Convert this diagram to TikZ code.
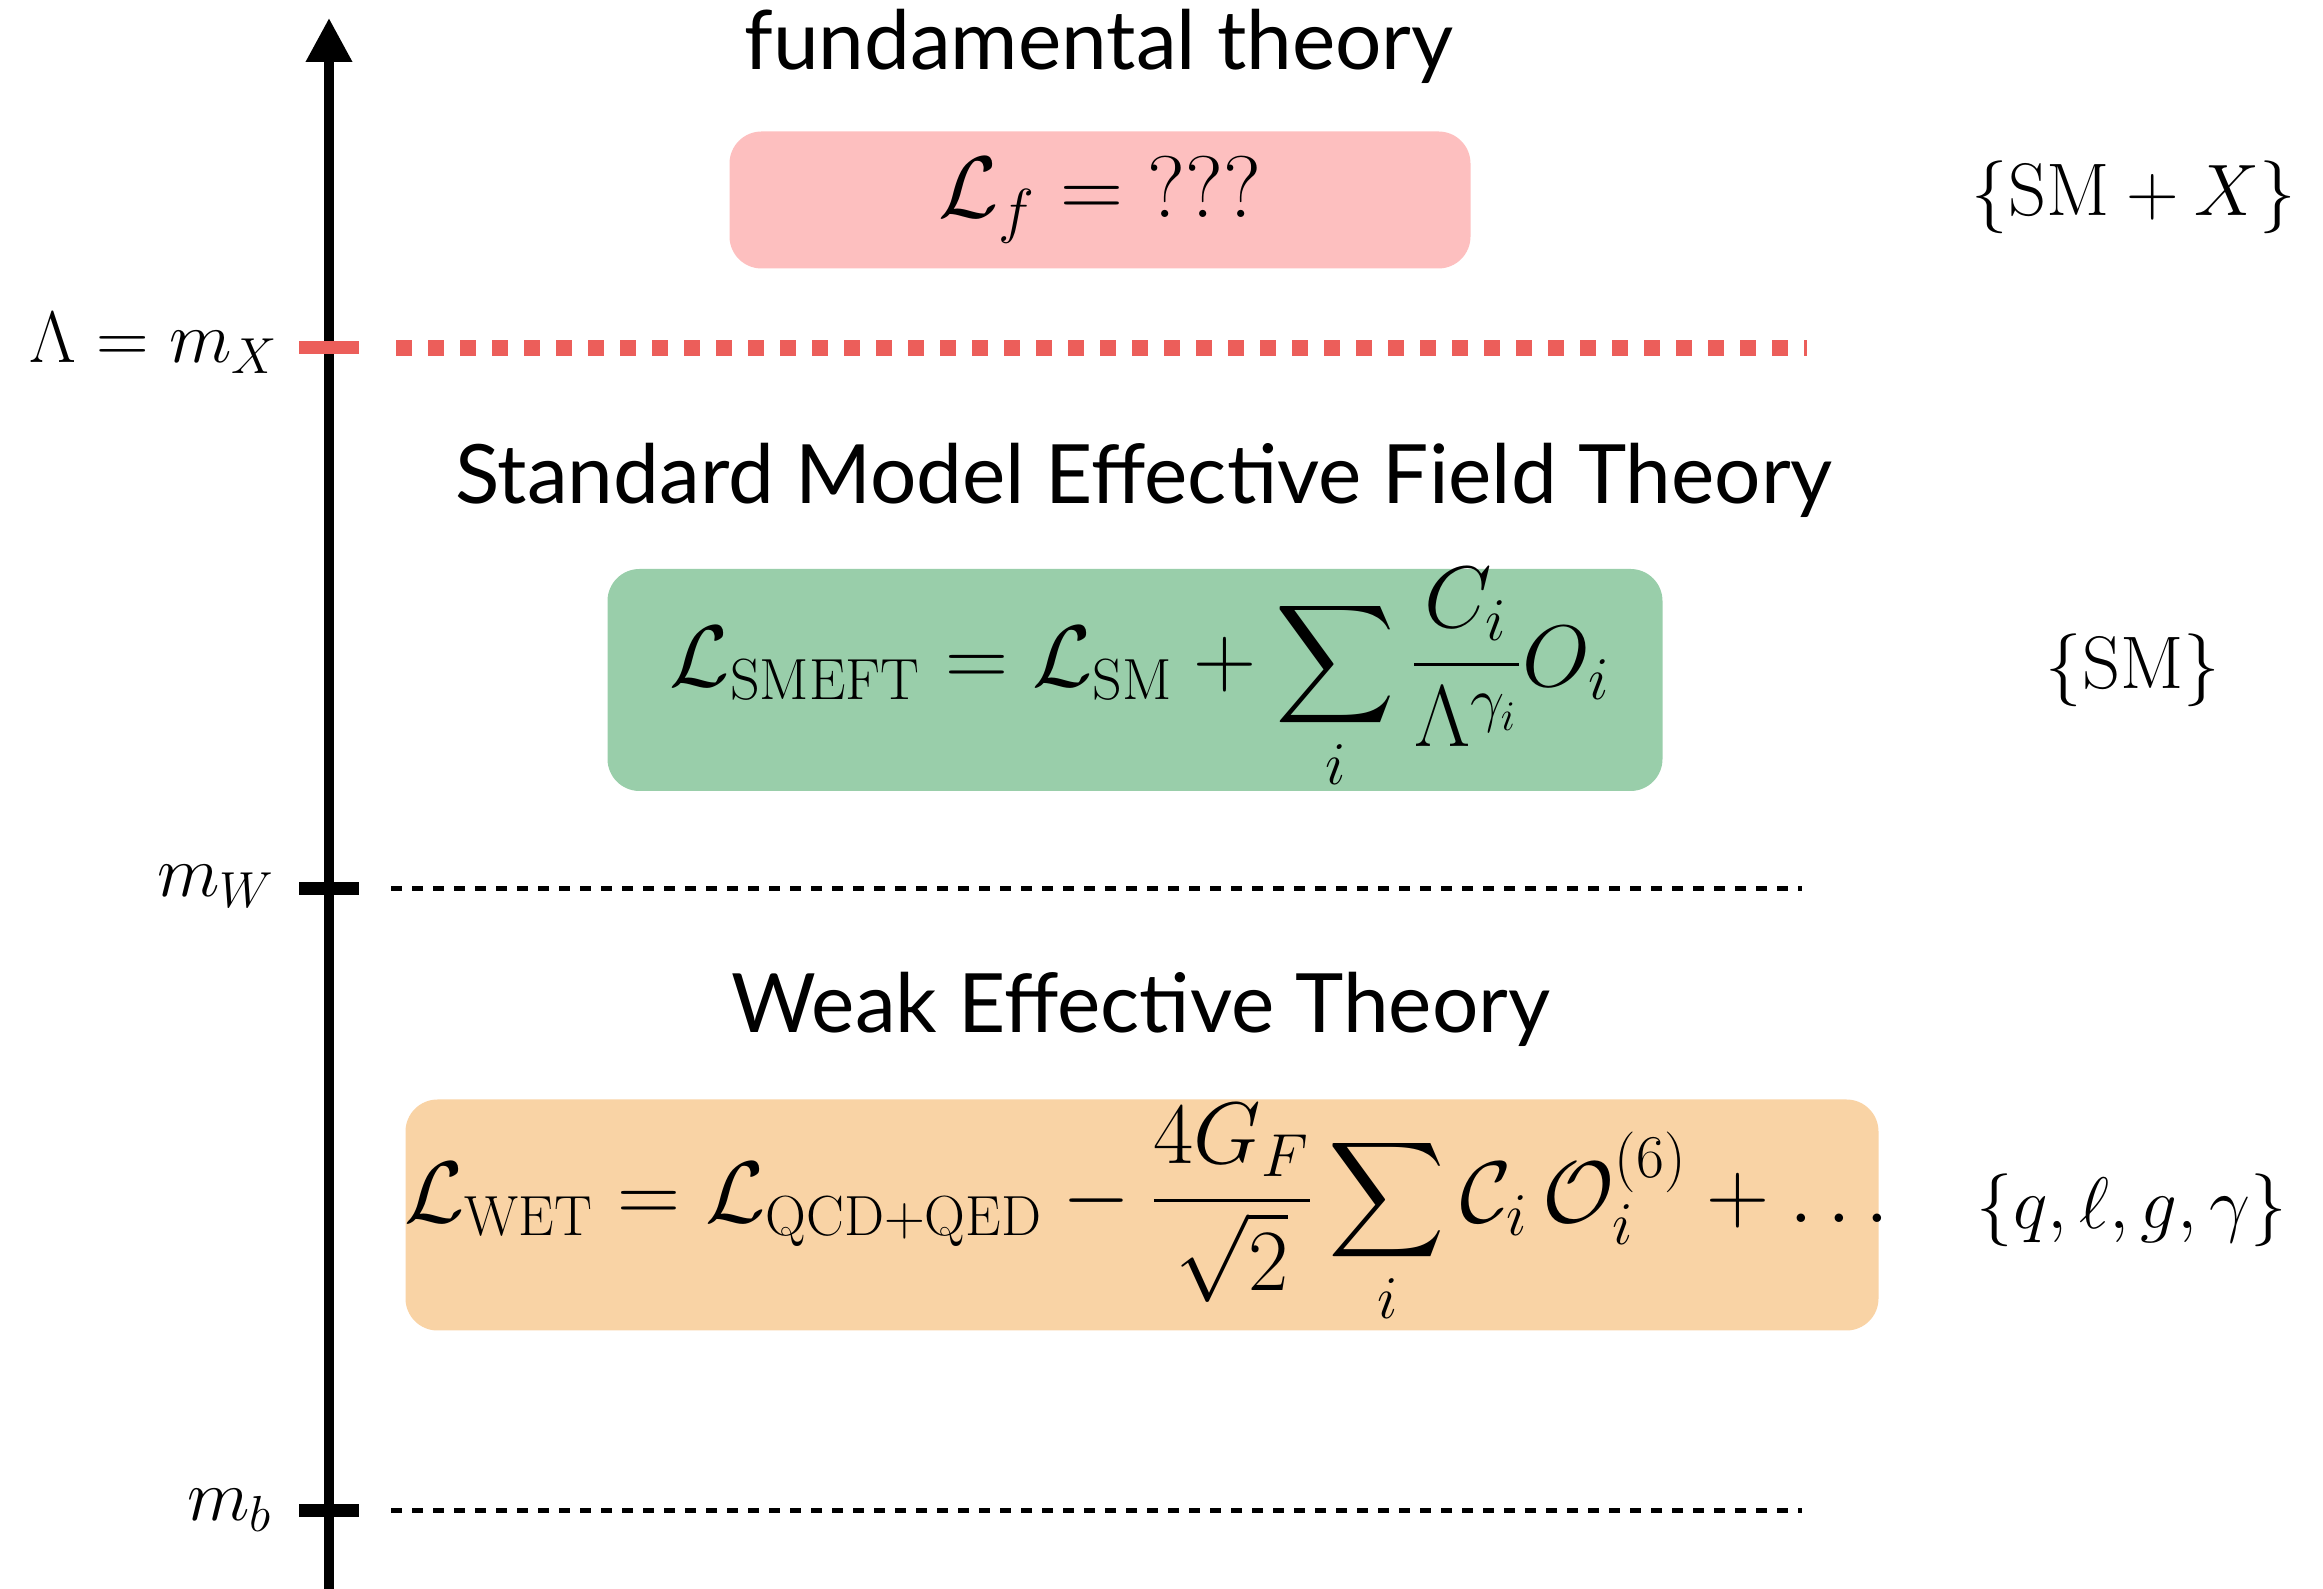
\documentclass[tikz,border=0pt]{standalone}
\usepackage{amsmath,amssymb}
\usepackage{fontspec}
\setsansfont{Lato}
\usepackage{tikz}
\usetikzlibrary{arrows.meta,positioning}
\usepackage{xcolor}
\definecolor{fundred}{HTML}{FDBFBF}
\definecolor{smeftgreen}{HTML}{99CEAA}
\definecolor{wetorange}{HTML}{F9D3A5}
\definecolor{cutred}{HTML}{EC5E5A}

\begin{document}
\begin{tikzpicture}[x=1cm, y=1cm]
    \tikzstyle{box} = [rectangle, rounded corners=0.32cm, inner sep=0pt]
    \tikzstyle{theory} = [anchor=base, font=\sffamily\fontsize{23.3}{28}\selectfont]
    \tikzstyle{content} = [font=\fontsize{21.2}{25}\selectfont]
    \tikzstyle{scalelabel} = [anchor=base east, inner sep=0pt, font=\fontsize{21.8}{26}\selectfont]
    \tikzstyle{tick} = [line width=0.13cm]
    \tikzstyle{cutoff} = [cutred, line width=0.16cm, dash pattern=on 0.16cm off 0.16cm]
    \tikzstyle{threshold} = [line width=0.05cm, dash pattern=on 0.11cm off 0.10cm]

    \useasboundingbox (0,0) rectangle (23.23,-15.89);

    % energy axis
    \coordinate (axbot) at (3.29,-15.89);
    \coordinate (axtop) at (3.29,-0.18);
    \draw[line width=0.1cm, -{Triangle[width=0.44cm,length=0.44cm]}] (axbot) -- (axtop);

    % scales on the axis
    \coordinate (lamL) at (2.99,-3.48);  \coordinate (lamR) at (3.59,-3.48);
    \coordinate (mwL) at (2.99,-8.89);   \coordinate (mwR) at (3.59,-8.89);
    \coordinate (mbL) at (2.99,-15.11);  \coordinate (mbR) at (3.59,-15.11);
    \draw[tick, cutred] (lamL) -- (lamR);
    \draw[tick] (mwL) -- (mwR);
    \draw[tick] (mbL) -- (mbR);

    \node[scalelabel] (lam) at (2.79,-3.63) {$\Lambda = m_X$};
    \node[scalelabel] (mw) at (2.76,-8.97) {$m_W$};
    \node[scalelabel] (mb) at (2.73,-15.21) {$m_b$};

    % matching lines
    \coordinate (cutA) at (3.96,-3.48);  \coordinate (cutB) at (18.07,-3.48);
    \coordinate (mwA) at (3.91,-8.89);   \coordinate (mwB) at (18.02,-8.89);
    \coordinate (mbA) at (3.91,-15.11);  \coordinate (mbB) at (18.02,-15.11);
    \draw[cutoff] (cutA) -- (cutB);
    \draw[threshold] (mwA) -- (mwB);
    \draw[threshold] (mbA) -- (mbB);

    % theories
    \node[theory] (fundtitle) at (10.99,-0.70) {fundamental theory};
    \node[box, fill=fundred, minimum width=7.41cm, minimum height=1.37cm] (fund) at (11.00,-2.00) {};
    \node[font=\fontsize{23.2}{28}\selectfont] (fundeq) at (fund) {$\mathcal{L}_f = \;???$};

    \node[theory] (smefttitle) at (11.44,-5.04) {Standard Model Effective Field Theory};
    \node[box, fill=smeftgreen, minimum width=10.55cm, minimum height=2.22cm] (smeft) at (11.35,-6.80) {};
    \node[font=\fontsize{23.6}{28}\selectfont] (smefteq) at ([xshift=0.05cm]smeft.center)
        {$\displaystyle \mathcal{L}_{\text{SMEFT}} = \mathcal{L}_{\text{SM}} + \sum_i \frac{C_i}{\Lambda^{\gamma_i}} O_i$};

    \node[theory] (wettitle) at (11.41,-10.33) {Weak Effective Theory};
    \node[box, fill=wetorange, minimum width=14.73cm, minimum height=2.31cm] (wet) at (11.42,-12.15) {};
    \node[font=\fontsize{23}{28}\selectfont] (weteq) at ([xshift=0.05cm]wet.center)
        {$\displaystyle \mathcal{L}_{\text{WET}} = \mathcal{L}_{\text{QCD+QED}} - \frac{4G_F}{\sqrt{2}} \sum_i \mathcal{C}_i\, \mathcal{O}_i^{(6)} + \ldots$};

    % field content
    \node[content] (fundfields) at (21.34,-1.97) {$\{\text{SM} + X\}$};
    \node[content] (smeftfields) at (21.33,-6.70) {$\{\text{SM}\}$};
    \node[content] (wetfields) at (21.32,-12.10) {$\{q, \ell, g, \gamma\}$};
\end{tikzpicture}
\end{document}
